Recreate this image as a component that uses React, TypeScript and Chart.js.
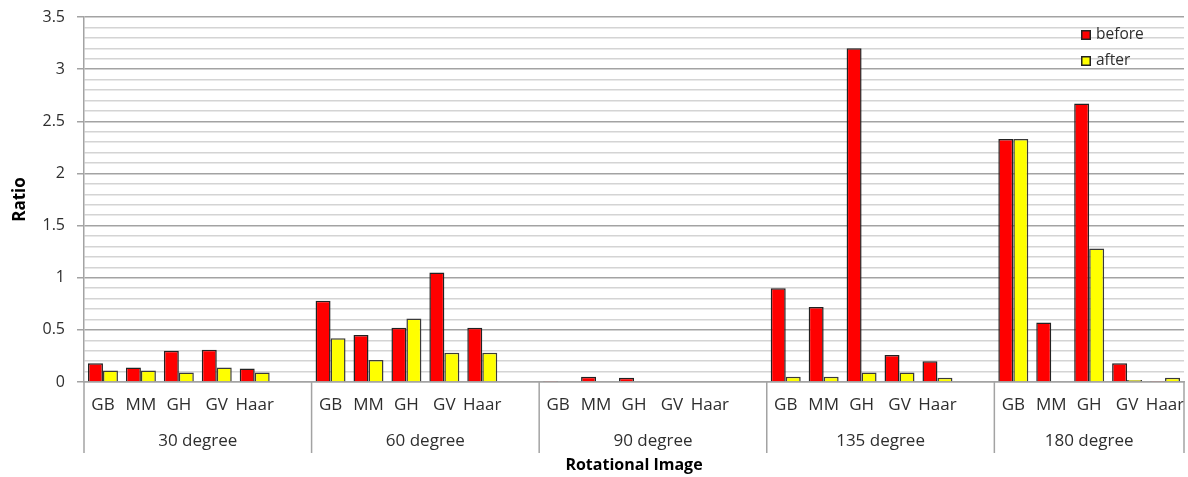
import React, { useEffect, useRef } from "react";
import { Chart, registerables } from "chart.js";

Chart.register(...registerables);

// Feature extractors shown under every rotation group
const methods = ["GB", "MM", "GH", "GV", "Haar"];
const groups = ["30 degree", "60 degree", "90 degree", "135 degree", "180 degree"];

// Ratio before / after for each rotation angle (order follows `methods`)
const before30 = [0.18, 0.14, 0.3, 0.31, 0.13];
const after30 = [0.11, 0.11, 0.09, 0.14, 0.09];
const before60 = [0.78, 0.45, 0.52, 1.05, 0.52];
const after60 = [0.42, 0.21, 0.61, 0.28, 0.28];
const before90 = [0.01, 0.05, 0.04, 0, 0];
const after90 = [0, 0, 0, 0, 0];
const before135 = [0.9, 0.72, 3.2, 0.26, 0.2];
const after135 = [0.05, 0.05, 0.09, 0.09, 0.04];
const before180 = [2.33, 0.57, 2.67, 0.18, 0.01];
const after180 = [2.33, 0, 1.28, 0.02, 0.04];

const beforeSets = [before30, before60, before90, before135, before180];
const afterSets = [after30, after60, after90, after135, after180];

const FONT = "'Open Sans', 'DejaVu Sans', sans-serif";
const TEXT = "#2e2e2e";
const MAJOR = "#a3a3a3";
const MINOR = "#d4d4d4";
const EDGE = "#222222";

// Flatten groups into one category axis, with an empty slot between groups
function flatten(sets: number[][]): (number | null)[] {
  const out: (number | null)[] = [];
  sets.forEach((s, gi) => {
    out.push(...s);
    if (gi < sets.length - 1) out.push(null);
  });
  return out;
}
const labels: string[] = [];
const groupStart: number[] = [];
groups.forEach((_, gi) => {
  groupStart.push(labels.length);
  labels.push(...methods);
  if (gi < groups.length - 1) labels.push("");
});

const isMajor = (v: number) => Math.abs(v * 2 - Math.round(v * 2)) < 1e-6;

// Group captions, separators below the axis and the in-plot legend
const groupPlugin = {
  id: "groupAxis",
  afterDraw(chart: any) {
    const { ctx, chartArea } = chart;
    const x = chart.scales.x;
    const w = (x.right - x.left) / labels.length;
    const bottom = chartArea.bottom;
    ctx.save();
    ctx.strokeStyle = MAJOR;
    ctx.lineWidth = 1.5;
    const bounds: number[] = groupStart.map((i) => x.getPixelForValue(i) - w / 2);
    bounds.push(x.right);
    bounds.forEach((bx) => {
      ctx.beginPath();
      ctx.moveTo(bx, bottom);
      ctx.lineTo(bx, bottom + 71);
      ctx.stroke();
    });
    ctx.fillStyle = TEXT;
    ctx.font = `17px ${FONT}`;
    ctx.textAlign = "center";
    ctx.textBaseline = "middle";
    groups.forEach((g, gi) => {
      ctx.fillText(g, (bounds[gi] + bounds[gi + 1]) / 2, bottom + 59);
    });

    // legend
    const lx = chartArea.right - 103;
    chart.data.datasets.forEach((ds: any, i: number) => {
      const cy = chartArea.top + 18 + i * 26;
      ctx.fillStyle = ds.backgroundColor;
      ctx.fillRect(lx, cy - 5, 10, 10);
      ctx.strokeStyle = EDGE;
      ctx.lineWidth = 1.5;
      ctx.strokeRect(lx + 0.75, cy - 4.25, 8.5, 8.5);
      ctx.fillStyle = TEXT;
      ctx.font = `15.5px ${FONT}`;
      ctx.textAlign = "left";
      ctx.fillText(ds.label, lx + 15, cy);
    });
    ctx.restore();
  },
};

export default function App() {
  const ref = useRef<HTMLCanvasElement | null>(null);

  useEffect(() => {
    if (!ref.current) return;
    const chart = new Chart(ref.current, {
      type: "bar",
      data: {
        labels,
        datasets: [
          {
            label: "before",
            data: flatten(beforeSets),
            backgroundColor: "#ff0000",
            borderColor: EDGE,
            borderWidth: 1.5,
          },
          {
            label: "after",
            data: flatten(afterSets),
            backgroundColor: "#ffff00",
            borderColor: "#3a3a3a",
            borderWidth: 1.5,
          },
        ],
      },
      options: {
        responsive: false,
        animation: false,
        layout: { padding: { top: 17, right: 4, left: 0, bottom: 0 } },
        datasets: { bar: { categoryPercentage: 0.79, barPercentage: 1 } },
        plugins: { legend: { display: false }, tooltip: { enabled: false } },
        scales: {
          x: {
            grid: { display: false, drawTicks: false },
            border: { display: true, color: MAJOR, width: 1.5 },
            ticks: {
              autoSkip: false,
              maxRotation: 0,
              padding: 13,
              color: TEXT,
              font: { family: FONT, size: 17 },
            },
            title: {
              display: true,
              text: "Rotational Image",
              color: "#000",
              font: { family: FONT, size: 16, weight: "bold" },
              padding: { top: 0, bottom: 2 },
            },
            afterFit: (s: any) => {
              s.height = 95;
              s.paddingLeft = 0;
              s.paddingRight = 0;
            },
          },
          y: {
            min: 0,
            max: 3.5,
            grid: {
              color: (c: any) => (isMajor(c.tick.value) ? MAJOR : MINOR),
              tickColor: (c: any) => (isMajor(c.tick.value) ? MAJOR : "rgba(0,0,0,0)"),
              lineWidth: 1.5,
              tickLength: 7,
            },
            border: { display: true, color: MAJOR, width: 1.5 },
            ticks: {
              stepSize: 0.1,
              autoSkip: false,
              padding: 12,
              color: TEXT,
              font: { family: FONT, size: 16 },
              callback: (v: any) => {
                const n = Number(v);
                return isMajor(n) ? String(Math.round(n * 2) / 2) : "";
              },
            },
            title: {
              display: true,
              text: "Ratio",
              color: "#000",
              font: { family: FONT, size: 17, weight: "bold" },
              padding: { top: 10, bottom: 0 },
            },
            afterFit: (s: any) => {
              s.width = 84;
              s.paddingTop = 0;
              s.paddingBottom = 0;
            },
          },
        },
      },
      plugins: [groupPlugin],
    } as any);
    return () => chart.destroy();
  }, []);

  return (
    <div style={{ position: "fixed", left: 0, top: 0, width: 1188, height: 477, background: "#fff" }}>
      <canvas ref={ref} width={1188} height={477} />
    </div>
  );
}
